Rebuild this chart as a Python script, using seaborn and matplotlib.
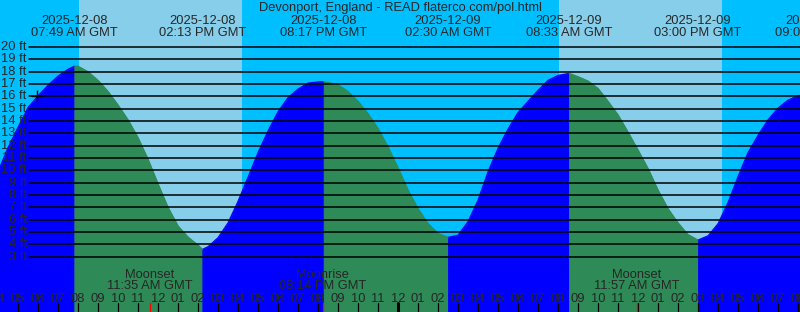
import numpy as np
import pandas as pd
import matplotlib
matplotlib.use("Agg")
import matplotlib.pyplot as plt
import matplotlib.transforms as mtransforms
import seaborn as sns

# ---------------- data ----------------
# half-hourly tide heights (ft), hours counted from 2025-12-08 00:00 GMT
sample_times = [4.0, 4.5, 5.0, 5.5, 6.0, 6.5, 7.0, 7.5, 8.0, 8.5, 9.0, 9.5, 10.0, 10.5,
                11.0, 11.5, 12.0, 12.5, 13.0, 13.5, 14.0, 14.5, 15.0, 15.5, 16.0, 16.5,
                17.0, 17.5, 18.0, 18.5, 19.0, 19.5, 20.0, 20.5, 21.0, 21.5, 22.0, 22.5,
                23.0, 23.5, 24.0, 24.5, 25.0, 25.5, 26.0, 26.5, 27.0, 27.5, 28.0, 28.5,
                29.0, 29.5, 30.0, 30.5, 31.0, 31.5, 32.0, 32.5, 33.0, 33.5, 34.0, 34.5,
                35.0, 35.5, 36.0, 36.5, 37.0, 37.5, 38.0, 38.5, 39.0, 39.5, 40.0, 40.5,
                41.0, 41.5, 42.0, 42.5, 43.0, 43.5, 44.0]
sample_heights = [9.9, 11.85, 13.5, 15.1, 16.05, 16.9, 17.65, 18.2, 18.45, 18.0, 17.3, 16.4,
                  15.3, 14.1, 12.65, 10.9, 8.9, 7.0, 5.5, 4.6, 3.95, 3.82, 4.55, 5.75, 7.5,
                  9.45, 11.45, 13.2, 14.75, 15.9, 16.6, 17.08, 17.17, 17.12, 16.95, 16.4,
                  15.6, 14.6, 13.4, 11.9, 10.2, 8.4, 6.9, 5.7, 4.9, 4.58, 4.75, 5.85, 7.6,
                  9.9, 11.8, 13.35, 14.7, 15.6, 16.5, 17.3, 17.7, 17.85, 17.6, 17.25, 16.65,
                  15.6, 14.5, 13.1, 11.65, 10.15, 8.4, 6.9, 5.75, 4.8, 4.36, 4.7, 5.68, 7.4,
                  9.5, 11.45, 12.85, 14.1, 15.05, 15.7, 16.05]

# high / low tide events
event_times = [7.817, 14.217, 20.283, 26.5, 32.55, 39.0, 45.05]
event_heights = [18.45, 3.6, 17.2, 4.58, 17.87, 4.36, 16.4]
event_kinds = ["High", "Low", "High", "Low", "High", "Low", "High"]
event_dates = ["2025-12-08", "2025-12-08", "2025-12-08", "2025-12-09", "2025-12-09",
               "2025-12-09", "2025-12-09"]
event_labels = ["07:49 AM GMT", "02:13 PM GMT", "08:17 PM GMT", "02:30 AM GMT",
                "08:33 AM GMT", "03:00 PM GMT", "09:03 PM GMT"]

# daylight
sunrise_times = [8.05, 32.05]
sunset_times = [16.2, 40.2]

# moon events
moon_times = [11.583, 20.233, 35.95]
moon_names = ["Moonset", "Moonrise", "Moonset"]
moon_labels = ["11:35 AM GMT", "08:14 PM GMT", "11:57 AM GMT"]

# current-time mark
now_time = 5.95
now_height = 16.05

# height grid lines
ft_levels = list(range(3, 21))

title = "Devonport, England - READ flaterco.com/pol.html"

# ---------------- styling ----------------
NIGHT = "#00BFFF"
DAY = "#87CEEB"
RISE = "#0000FF"
FALL = "#2E8B57"

sns.set_style("white")
plt.rcParams["font.family"] = ["Liberation Sans", "DejaVu Sans"]
FS = 9.3

W, H = 800, 312
X0 = 4.1              # hour at left edge
X1 = X0 + W / 20.0    # 20 px per hour
FT_TOP_PX = 47.0
PX_PER_FT = 12.34
Y_TOP = 20 + FT_TOP_PX / PX_PER_FT
Y_BOT = 20 - (H - FT_TOP_PX) / PX_PER_FT


def yfrac(px):
    return 1 - px / H


fig = plt.figure(figsize=(W / 100, H / 100), dpi=100, facecolor=NIGHT)
ax = fig.add_axes([0, 0, 1, 1])
ax.set_facecolor(NIGHT)
blend = mtransforms.blended_transform_factory(ax.transData, ax.transAxes)

# daylight bands
for sr, ss in zip(sunrise_times, sunset_times):
    ax.axvspan(sr, ss, color=DAY, lw=0, zorder=0)

# build curve table with segments between events
samples = pd.DataFrame({"t": sample_times, "h": sample_heights})
events = pd.DataFrame({"t": event_times, "h": event_heights})
samples = samples[~samples.t.round(3).isin(events.t.round(3))]
df = pd.concat([samples, events]).sort_values("t").reset_index(drop=True)
rows = []
bounds = [df.t.min()] + event_times
for i, kind in enumerate(event_kinds):
    a, b = bounds[i], bounds[i + 1]
    seg = df[(df.t >= a) & (df.t <= b)].copy()
    seg["phase"] = "rising" if kind == "High" else "falling"
    seg["seg"] = i
    rows.append(seg)
curve = pd.concat(rows, ignore_index=True)

palette = {"rising": RISE, "falling": FALL}
for i, seg in curve.groupby("seg"):
    col = palette[seg.phase.iloc[0]]
    ax.fill_between(seg.t, seg.h, Y_BOT, color=col, lw=0.6, edgecolor=col, zorder=1)

sns.lineplot(data=curve, x="t", y="h", hue="phase", units="seg", estimator=None,
             palette=palette, legend=False, lw=0.8, ax=ax, zorder=2)
ax.set_xlim(X0, X1)
ax.set_ylim(Y_BOT, Y_TOP)
ax.set_axis_off()

# horizontal foot lines and labels
for f in ft_levels:
    ax.axhline(f, xmin=29.3 / W, xmax=1, color="black", lw=1.1, zorder=3)
    ax.text(X0 + 26.7 / 20, f, f"{f} ft", ha="right", va="center", fontsize=FS, zorder=4)

# now marker
ax.plot([now_time], [now_height], marker="+", color="black", ms=8, mew=1.0, zorder=5)

# title and event labels
fig.text(0.5, yfrac(11), title, ha="center", va="baseline", fontsize=FS)
for t, d, lab in zip(event_times, event_dates, event_labels):
    ax.text(t, yfrac(24), d, ha="center", va="baseline", fontsize=FS, transform=blend, zorder=6)
    ax.text(t, yfrac(35.7), lab, ha="center", va="baseline", fontsize=FS, transform=blend, zorder=6)

# moon labels
for t, n, lab in zip(moon_times, moon_names, moon_labels):
    ax.text(t, yfrac(277.7), n, ha="center", va="baseline", fontsize=FS, transform=blend, zorder=6)
    ax.text(t, yfrac(289.3), lab, ha="center", va="baseline", fontsize=FS, transform=blend, zorder=6)
    ax.axvline(t, ymin=0, ymax=9 / H, color="red", lw=0.9, zorder=6)

# hour labels and ticks
for hr in range(4, 45):
    h12 = hr % 12
    h12 = 12 if h12 == 0 else h12
    ax.text(hr, yfrac(301.7), f"{h12:02d}", ha="center", va="baseline", fontsize=FS,
            transform=blend, zorder=6)
    if hr % 24 == 0:
        ax.axvline(hr, ymin=0, ymax=9 / H, color="black", lw=2.2, zorder=6)
    else:
        ax.axvline(hr, ymin=0, ymax=9 / H, color="black", lw=0.9, zorder=5)

fig.savefig("out.png", dpi=100, facecolor=NIGHT)
